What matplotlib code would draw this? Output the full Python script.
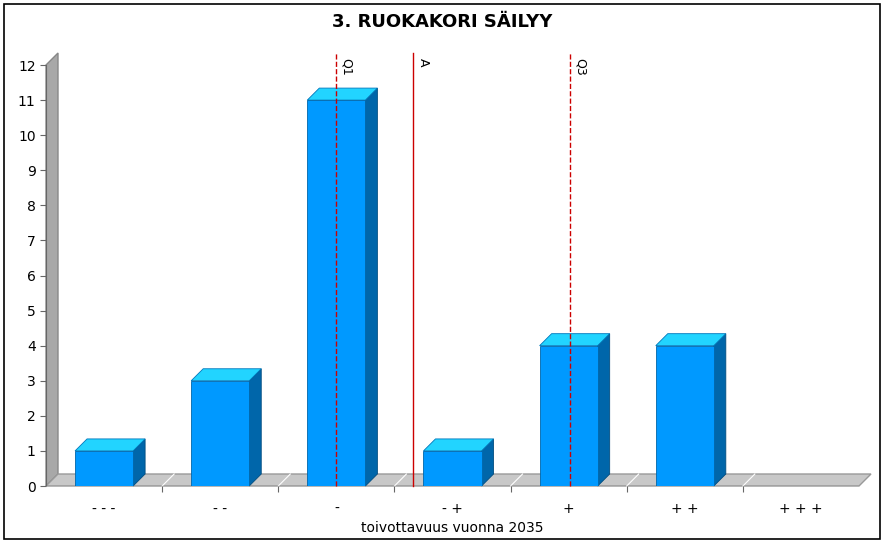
import numpy as np
import matplotlib.pyplot as plt
from matplotlib.patches import Polygon, Rectangle

categories = ['- - -', '- -', '-', '- +', '+', '+ +', '+ + +']
counts = [1, 3, 11, 1, 4, 4, 0]
markers = [('Q1', 2.0, '--'), ('A', 2.66, '-'), ('Q3', 4.01, '--')]

W, H = 885, 543
fig = plt.figure(figsize=(W / 100, H / 100), dpi=100)
fig.patches.append(Rectangle((4 / W, 4 / H), 876 / W, 535 / H, transform=fig.transFigure,
                             fill=False, edgecolor='black', lw=1.2))
fig.text(0.5, 1 - 22 / H, '3. RUOKAKORI SÄILYY', ha='center', va='center',
         fontsize=13, fontweight='bold')

ax = fig.add_axes([46 / W, (H - 486) / H, 813 / W, 421 / H])
ax.set_xlim(-0.5, 6.5)
ax.set_ylim(0, 12)
for s in ax.spines.values():
    s.set_visible(False)
ax.patch.set_alpha(0)

dx, dy = 12 / 116.2, 12 / 35.1
# back wall / floor
ax.add_patch(Polygon([(-0.5, 0), (-0.5 + dx, dy), (-0.5 + dx, 12 + dy), (-0.5, 12)],
                     closed=True, fc='#a8a8a8', ec='#888888', clip_on=False, zorder=1))
ax.add_patch(Polygon([(-0.5, 0), (-0.5 + dx, dy), (6.5 + dx, dy), (6.5, 0)],
                     closed=True, fc='#c8c8c8', ec='#999999', clip_on=False, zorder=1))
for b in np.arange(0.5, 6.5, 1):
    ax.plot([b, b + dx], [0, dy], color='white', lw=0.8, zorder=1.5, clip_on=False)

bw = 0.5
for i, v in enumerate(counts):
    if v <= 0:
        continue
    x0, x1 = i - bw / 2, i + bw / 2
    ax.add_patch(Polygon([(x1, 0), (x1 + dx, dy), (x1 + dx, v + dy), (x1, v)],
                         fc='#0066aa', ec='#004c80', lw=0.6, zorder=3, clip_on=False))
    ax.add_patch(Polygon([(x0, v), (x0 + dx, v + dy), (x1 + dx, v + dy), (x1, v)],
                         fc='#22d4ff', ec='#0077bb', lw=0.6, zorder=3, clip_on=False))
    ax.add_patch(Rectangle((x0, 0), bw, v, fc='#0099ff', ec='#0066aa', lw=0.6, zorder=3))

for name, xpos, ls in markers:
    ax.plot([xpos, xpos], [0, 12 + dy], color='#cc0000', ls=ls, lw=1, zorder=4, clip_on=False)
    ax.text(xpos + 0.03, 12.2, name, rotation=270, ha='left', va='top', fontsize=9, zorder=5)

ax.axhline(0, color='#666666', lw=0.8, zorder=2)
ax.axvline(-0.5, color='#666666', lw=0.8, zorder=2)
ax.set_yticks(range(13))
ax.tick_params(axis='y', labelsize=10, length=4, color='#666666')
ax.set_xticks(np.arange(0.5, 6.5, 1), minor=False)
ax.set_xticklabels([])
ax.tick_params(axis='x', length=4, color='#666666')
for i, c in enumerate(categories):
    ax.text(i, -0.45, c, ha='center', va='top', fontsize=10)
ax.text(3, -1.0, 'toivottavuus vuonna 2035', ha='center', va='top', fontsize=10)

fig.savefig('out.png', dpi=100)
